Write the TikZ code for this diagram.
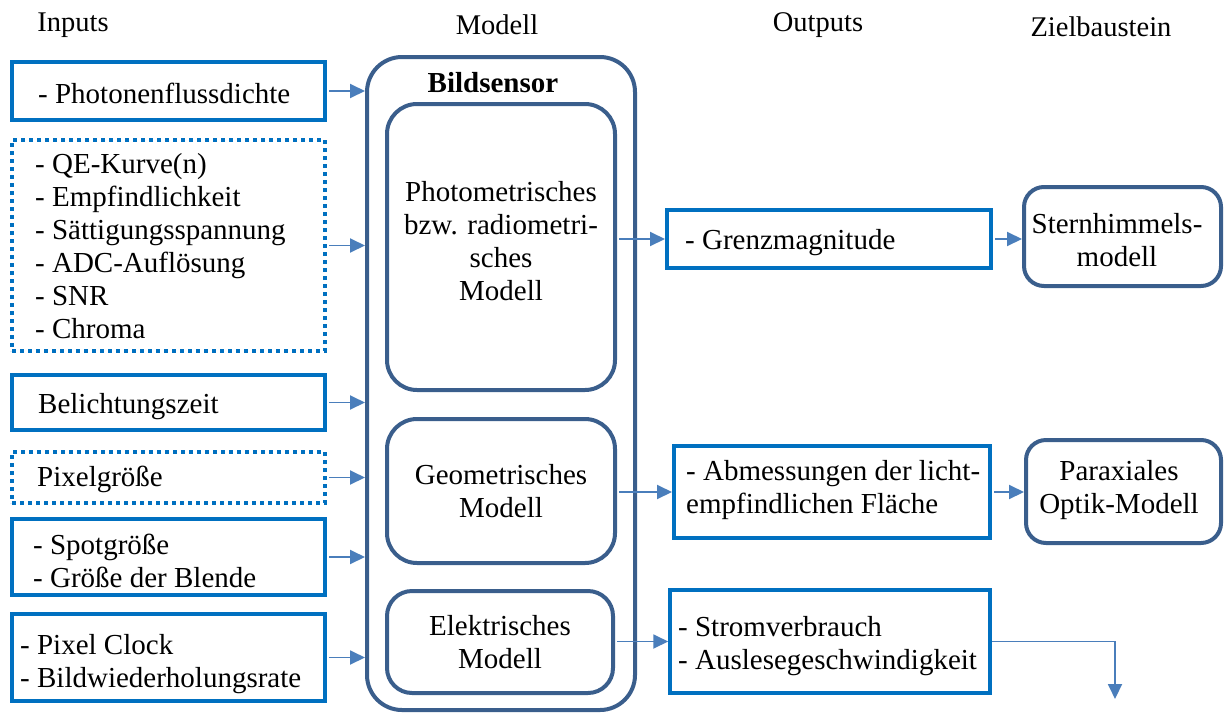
\documentclass[tikz,border=0pt]{standalone}
\usepackage{fontspec}
\setmainfont{Liberation Serif}
\usetikzlibrary{arrows.meta}
\definecolor{inblue}{RGB}{0,112,192}
\definecolor{modelblue}{RGB}{58,94,140}
\definecolor{arrblue}{RGB}{74,126,187}
\newcommand{\bodyfont}{\fontsize{29}{33}\selectfont}
\newcommand{\headfont}{\fontsize{28.5}{33}\selectfont}
\begin{document}
\begin{tikzpicture}[x=1pt,y=-1pt,
  inbox/.style={draw=inblue, line width=4pt, inner sep=0pt},
  dotbox/.style={inbox, dash pattern=on 4pt off 4pt},
  modbox/.style={draw=modelblue, line width=4pt, align=center, inner sep=0pt,
    font=\bodyfont},
  txt/.style={font=\bodyfont, align=left, inner sep=0pt, anchor=west},
  plain/.style={font=\bodyfont, align=center, inner sep=0pt},
  head/.style={font=\headfont, inner sep=0pt},
  arr/.style={draw=arrblue, line width=1.9pt,
    -{Triangle[length=15pt,width=14pt]}, shorten <=2pt},
]
\useasboundingbox (0,0) rectangle (1225,715);

% column headings
\node[head] (hin)   at (73,25)   {Inputs};
\node[head] (hmod)  at (497,25)  {Modell};
\node[head] (hout)  at (818,25)  {Outputs};
\node[head] (hziel) at (1101,27) {Zielbaustein};

% input boxes and their texts
\node[inbox,  minimum width=313pt, minimum height=58pt]  (in1) at (168.5,91) {};
\node[dotbox, minimum width=313pt, minimum height=211pt] (in2) at (168.5,245.5) {};
\node[inbox,  minimum width=313pt, minimum height=55pt]  (in3) at (168.5,402.5) {};
\node[dotbox, minimum width=313pt, minimum height=51pt]  (in4) at (168.5,477.5) {};
\node[inbox,  minimum width=313pt, minimum height=76pt]  (in5) at (168.5,557) {};
\node[inbox,  minimum width=313pt, minimum height=87pt]  (in6) at (168.5,657.5) {};

\node[txt] (in1t) at (38,93)    {- Photonenflussdichte};
\node[txt] (in2t) at (35,246)   {- QE-Kurve(n)\\- Empfindlichkeit\\- Sättigungsspannung\\- ADC-Auflösung\\- SNR\\- Chroma};
\node[txt] (in3t) at (38,407)   {Belichtungszeit};
\node[txt] (in4t) at (37,479)   {Pixelgröße};
\node[txt] (in5t) at (33,561)   {- Spotgröße\\- Größe der Blende};
\node[txt] (in6t) at (20,664)   {- Pixel Clock\\- Bildwiederholungsrate};

% image sensor with its three sub-models
\node[modbox, rounded corners=35pt, minimum width=268pt, minimum height=653pt] (model) at (501,383.5) {};
\node[font=\bodyfont\bfseries, inner sep=0pt] (title) at (493,83) {Bildsensor};
\node[modbox, rounded corners=30pt, minimum width=228pt, minimum height=286pt] (m1) at (501,247) {};
\node[plain] (m1text) at (501,241)
  {Photometrisches\\bzw. radiometri-\\sches\\Modell};
\node[modbox, rounded corners=30pt, minimum width=228pt, minimum height=144pt] (m2) at (501,491)
  {Geometrisches\\Modell};
\node[modbox, rounded corners=25pt, minimum width=226pt, minimum height=102pt] (m3) at (500,642)
  {Elektrisches\\Modell};

% output boxes and their texts
\node[inbox, minimum width=324pt,   minimum height=58pt]  (o1) at (829,239) {};
\node[inbox, minimum width=316pt,   minimum height=92pt]  (o2) at (832,492) {};
\node[inbox, minimum width=319.5pt, minimum height=103pt] (o3) at (830,641.5) {};

\node[txt] (o1t) at (685,243) {- Grenzmagnitude};
\node[txt] (o2t) at (686,490) {- Abmessungen der licht-\\empfindlichen Fläche};
\node[txt] (o3t) at (678,646) {- Stromverbrauch\\- Auslesegeschwindigkeit};

% target modules
\node[modbox, rounded corners=20pt, minimum width=197pt, minimum height=99pt] (z1) at (1122.5,236.5) {};
\node[plain] (z1text) at (1117,240) {Sternhimmels-\\modell};
\node[modbox, rounded corners=20pt, minimum width=195pt, minimum height=103pt] (z2) at (1123.5,491.5) {};
\node[plain] (z2text) at (1119,490) {Paraxiales\\Optik-Modell};
\coordinate (sink) at (1115,699);

% connectors: inputs to the sensor model
\foreach \n in {in1,in2,in3,in4,in5,in6}
  \draw[arr] (\n.east) -- (\n.east -| model.west);

% connectors: sub-models to outputs
\draw[arr] (o1.west -| m1.east) -- (o1.west);
\draw[arr] (o2.west -| m2.east) -- (o2.west);
\draw[arr] (o3.west -| m3.east) -- (o3.west);

% connectors: outputs to target modules
\draw[arr] (o1.east) -- (o1.east -| z1.west);
\draw[arr] (o2.east) -- (o2.east -| z2.west);
\draw[arr, shorten <=0pt] (o3.east) -| (sink);
\end{tikzpicture}
\end{document}
